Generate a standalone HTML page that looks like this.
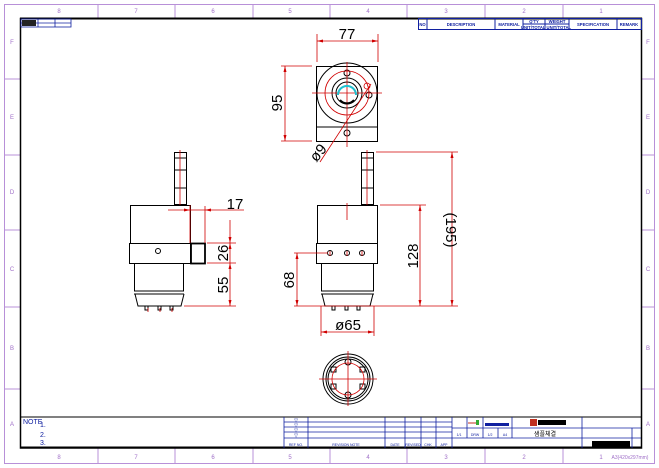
<!DOCTYPE html>
<html><head><meta charset="utf-8"><style>
html,body{margin:0;padding:0;background:#fff}
svg{display:block}
text{font-family:"Liberation Sans",sans-serif}
</style></head><body>
<svg width="659" height="468" viewBox="0 0 659 468" xmlns="http://www.w3.org/2000/svg">
<rect x="0" y="0" width="659" height="468" fill="#fff"/>
<!-- outer lavender border -->
<rect x="4.5" y="4.5" width="650" height="459" fill="none" stroke="#b890d8" stroke-width="1"/>
<g stroke="#b890d8" stroke-width="1">
<line x1="98" y1="5" x2="98" y2="18"/><line x1="175" y1="5" x2="175" y2="18"/><line x1="253" y1="5" x2="253" y2="18"/><line x1="330" y1="5" x2="330" y2="18"/><line x1="407" y1="5" x2="407" y2="18"/><line x1="485" y1="5" x2="485" y2="18"/><line x1="563" y1="5" x2="563" y2="18"/>
<line x1="98" y1="448" x2="98" y2="463"/><line x1="175" y1="448" x2="175" y2="463"/><line x1="253" y1="448" x2="253" y2="463"/><line x1="330" y1="448" x2="330" y2="463"/><line x1="407" y1="448" x2="407" y2="463"/><line x1="485" y1="448" x2="485" y2="463"/><line x1="563" y1="448" x2="563" y2="463"/>
<line x1="5" y1="79" x2="20" y2="79"/><line x1="5" y1="155" x2="20" y2="155"/><line x1="5" y1="230" x2="20" y2="230"/><line x1="5" y1="307" x2="20" y2="307"/><line x1="5" y1="389" x2="20" y2="389"/>
<line x1="641" y1="79" x2="654" y2="79"/><line x1="641" y1="155" x2="654" y2="155"/><line x1="641" y1="230" x2="654" y2="230"/><line x1="641" y1="307" x2="654" y2="307"/><line x1="641" y1="389" x2="654" y2="389"/>
</g>
<g fill="#a070c8" font-size="6" text-anchor="middle">
<text x="59" y="13">8</text><text x="136" y="13">7</text><text x="213" y="13">6</text><text x="290" y="13">5</text><text x="368" y="13">4</text><text x="446" y="13">3</text><text x="524" y="13">2</text><text x="601" y="13">1</text>
<text x="59" y="459">8</text><text x="136" y="459">7</text><text x="213" y="459">6</text><text x="290" y="459">5</text><text x="368" y="459">4</text><text x="446" y="459">3</text><text x="524" y="459">2</text><text x="601" y="459">1</text>
<text x="12" y="44">F</text><text x="12" y="119">E</text><text x="12" y="194">D</text><text x="12" y="271">C</text><text x="12" y="350">B</text><text x="12" y="426">A</text>
<text x="648" y="44">F</text><text x="648" y="119">E</text><text x="648" y="194">D</text><text x="648" y="271">C</text><text x="648" y="350">B</text><text x="648" y="426">A</text>
<text x="630" y="459" font-size="5">A3(420x297mm)</text>
</g>
<!-- inner frame -->
<rect x="20.5" y="18.5" width="621" height="429.5" fill="none" stroke="#000" stroke-width="1.5"/>
<line x1="20" y1="18.5" x2="642" y2="18.5" stroke="#000" stroke-width="2"/>
<line x1="20" y1="447.5" x2="642" y2="447.5" stroke="#000" stroke-width="2"/>
<!-- top-left tiny table -->
<g stroke="#1020a0" stroke-width="0.8" fill="none">
<rect x="21" y="19" width="50" height="8"/><line x1="21" y1="23" x2="71" y2="23"/><line x1="38" y1="19" x2="38" y2="27"/><line x1="55" y1="19" x2="55" y2="27"/>
</g>
<rect x="22" y="20" width="14" height="6" fill="#222"/>
<!-- top-right parts table -->
<g stroke="#1020a0" stroke-width="1" fill="none">
<rect x="418.5" y="18.5" width="223" height="11"/>
<line x1="427" y1="19" x2="427" y2="30"/><line x1="495" y1="19" x2="495" y2="30"/><line x1="523" y1="19" x2="523" y2="30"/><line x1="545" y1="19" x2="545" y2="30"/><line x1="569" y1="19" x2="569" y2="30"/><line x1="617" y1="19" x2="617" y2="30"/><line x1="523" y1="24" x2="569" y2="24"/>
</g>
<g fill="#1020a0" font-size="4.2" font-weight="bold" text-anchor="middle">
<text x="422.5" y="26">NO</text><text x="461" y="26">DESCRIPTION</text><text x="509" y="26">MATERIAL</text><text x="534" y="23">Q'TY</text><text x="557" y="23">WEIGHT</text><text x="546" y="29">UNIT/TOTAL UNIT/TOTAL</text><text x="593" y="26">SPECIFICATION</text><text x="629" y="26">REMARK</text>
</g>
<!-- notes box -->
<line x1="20" y1="417" x2="642" y2="417" stroke="#000" stroke-width="1"/>
<g fill="#1020a0" font-size="7">
<text x="23" y="424">NOTE</text><text x="40" y="427">1.</text><text x="40" y="437">2.</text><text x="40" y="445">3.</text>
</g>
<!-- title block -->
<g stroke="#1020a0" stroke-width="0.8" fill="none">
<line x1="284" y1="417" x2="284" y2="448"/>
<line x1="284" y1="422" x2="452" y2="422"/><line x1="284" y1="427" x2="452" y2="427"/><line x1="284" y1="432" x2="452" y2="432"/><line x1="284" y1="438" x2="452" y2="438"/>
<line x1="308" y1="417" x2="308" y2="448"/><line x1="385" y1="417" x2="385" y2="448"/><line x1="405" y1="417" x2="405" y2="448"/><line x1="421" y1="417" x2="421" y2="448"/><line x1="436" y1="417" x2="436" y2="448"/>
<line x1="452" y1="417" x2="452" y2="448"/>
<line x1="452" y1="428" x2="582" y2="428"/><line x1="452" y1="438" x2="582" y2="438"/>
<line x1="467" y1="417" x2="467" y2="438"/><line x1="483" y1="417" x2="483" y2="438"/><line x1="512" y1="417" x2="512" y2="438"/><line x1="498" y1="428" x2="498" y2="438"/>
<line x1="582" y1="417" x2="582" y2="448"/><line x1="582" y1="428" x2="641" y2="428"/><line x1="582" y1="438" x2="641" y2="438"/><line x1="632" y1="428" x2="632" y2="448"/>
</g>
<g fill="#1020a0" font-size="3.5" text-anchor="middle">
<text x="296" y="446">REF NO.</text><text x="346" y="446">REVISION NOTE</text><text x="395" y="446">DATE</text><text x="413" y="446">REVISED</text><text x="428" y="446">CHK</text><text x="444" y="446">APP</text>
<text x="459" y="436">1/1</text><text x="475" y="436">DRW</text><text x="490" y="436">1/2</text><text x="505" y="436">A4</text>
</g>
<g fill="#1020a0" font-size="5" text-anchor="middle"><text x="296" y="422">▽</text><text x="296" y="427">▽</text><text x="296" y="432">▽</text><text x="296" y="437">▽</text></g>
<rect x="485" y="423" width="24" height="3" fill="#1020a0"/>
<rect x="530" y="419" width="7" height="7" fill="#c03020"/><rect x="538" y="420" width="28" height="5" fill="#000"/>
<text x="545" y="436" font-size="6" font-family="'Liberation Sans','Noto Sans CJK KR',sans-serif" text-anchor="middle" fill="#000">샘플체결</text>
<rect x="592" y="441" width="38" height="6" fill="#000"/>
<line x1="468" y1="423" x2="478" y2="423" stroke="#c03020"/><rect x="476" y="420" width="3" height="5" fill="#3a3"/>
<!-- ===== Top view ===== -->
<g fill="none" stroke="#000" stroke-width="1">
<rect x="316.5" y="66.5" width="61" height="75"/>
<line x1="316" y1="127" x2="378" y2="127"/>
<circle cx="347" cy="93" r="30"/>
<circle cx="347" cy="93" r="15"/><circle cx="347" cy="93" r="11"/>
<circle cx="347" cy="73" r="3"/><circle cx="369" cy="95" r="3"/><circle cx="347" cy="133" r="3"/>
</g>
<g fill="none" stroke="#d00000" stroke-width="0.8">
<circle cx="347" cy="93" r="22"/><circle cx="367" cy="86" r="3"/>
<line x1="347" y1="62" x2="347" y2="147"/><line x1="312" y1="93" x2="382" y2="93"/>
<line x1="317" y1="34" x2="317" y2="62"/><line x1="378" y1="34" x2="378" y2="62"/><line x1="317" y1="41" x2="378" y2="41"/>
<line x1="281" y1="66" x2="312" y2="66"/><line x1="281" y1="141" x2="312" y2="141"/><line x1="285" y1="66" x2="285" y2="141"/>
<line x1="320" y1="162" x2="371" y2="84"/>
</g>
<path d="M338,95 A9,9 0 0 1 356,95" fill="none" stroke="#20c0d0" stroke-width="2"/>
<path d="M340,100 A9,9 0 0 0 354,100" fill="none" stroke="#000" stroke-width="2"/>
<g font-size="15" fill="#000" text-anchor="middle">
<text x="347" y="39">77</text>
<text transform="translate(282,103) rotate(-90)">95</text>
<text transform="translate(322,156) rotate(-50)">ø9</text>
</g>
<!-- ===== Left front view ===== -->
<g fill="none" stroke="#000" stroke-width="1">
<rect x="174.5" y="152.5" width="12" height="52"/><line x1="174" y1="158" x2="187" y2="158"/><line x1="174" y1="170" x2="187" y2="170"/><line x1="174" y1="188" x2="187" y2="188"/>
<rect x="130.5" y="205.5" width="60" height="38"/>
<rect x="129.5" y="243.5" width="61" height="20"/>
<rect x="191" y="243.5" width="14" height="20" stroke-width="1.8"/>
<path d="M134.5,263 V291 H183.5 V263"/><line x1="134" y1="294" x2="184" y2="294"/>
<path d="M135,294 L138,306 H181 L184,294"/>
<path d="M145,306 v4 h3 v-4 M158,306 v4 h3 v-4 M170,306 v4 h3 v-4"/>
<circle cx="158" cy="251" r="2.5"/>
</g>
<g fill="none" stroke="#d00000" stroke-width="0.8">
<line x1="180" y1="150" x2="180" y2="205"/>
<line x1="168" y1="210" x2="244" y2="210"/><line x1="190" y1="205" x2="190" y2="243"/><line x1="205" y1="206" x2="205" y2="243"/>
<line x1="207" y1="243" x2="236" y2="243"/><line x1="207" y1="263" x2="236" y2="263"/><line x1="184" y1="306" x2="236" y2="306"/>
<line x1="230" y1="220" x2="230" y2="306"/>
<line x1="148" y1="308" x2="148" y2="312"/><line x1="160" y1="308" x2="160" y2="312"/><line x1="172" y1="308" x2="172" y2="312"/>
</g>
<g font-size="15" fill="#000" text-anchor="middle">
<text x="235" y="209">17</text>
<text transform="translate(228,253) rotate(-90)">26</text>
<text transform="translate(228,285) rotate(-90)">55</text>
</g>
<!-- ===== Right front view ===== -->
<g fill="none" stroke="#000" stroke-width="1">
<rect x="361.5" y="152.5" width="12" height="52"/><line x1="361" y1="158" x2="374" y2="158"/><line x1="361" y1="170" x2="374" y2="170"/><line x1="361" y1="188" x2="374" y2="188"/>
<rect x="317.5" y="205.5" width="60" height="38"/>
<rect x="316.5" y="243.5" width="61" height="20"/>
<path d="M321.5,263 V291 H373.5 V263"/><line x1="321" y1="294" x2="374" y2="294"/>
<path d="M322,294 L325,306 H370 L373,294"/>
<path d="M332,306 v4 h3 v-4 M345,306 v4 h3 v-4 M357,306 v4 h3 v-4"/>
<circle cx="330" cy="253" r="2.5"/><circle cx="347" cy="253" r="2.5"/><circle cx="362" cy="253" r="2.5"/>
</g>
<g fill="none" stroke="#d00000" stroke-width="0.8">
<line x1="367" y1="150" x2="367" y2="205"/><line x1="347" y1="203" x2="347" y2="220"/>
<line x1="376" y1="152" x2="458" y2="152"/><line x1="380" y1="205" x2="426" y2="205"/><line x1="294" y1="306" x2="458" y2="306"/>
<line x1="420" y1="205" x2="420" y2="306"/><line x1="452" y1="152" x2="452" y2="306"/>
<line x1="294" y1="253" x2="328" y2="253"/><line x1="297" y1="253" x2="297" y2="306"/>
<line x1="321" y1="306" x2="321" y2="336"/><line x1="374" y1="306" x2="374" y2="336"/><line x1="321" y1="332" x2="374" y2="332"/>
<line x1="330" y1="251" x2="330" y2="256"/><line x1="347" y1="251" x2="347" y2="256"/><line x1="362" y1="251" x2="362" y2="256"/>
</g>
<g font-size="15" fill="#000" text-anchor="middle">
<text transform="translate(418,256) rotate(-90)">128</text>
<text transform="translate(446,230) rotate(90)">(195)</text>
<text transform="translate(294,280) rotate(-90)">68</text>
<text x="348" y="330">ø65</text>
</g>
<!-- ===== Bottom view ===== -->
<g fill="none" stroke="#000" stroke-width="1">
<circle cx="348" cy="379" r="25"/><circle cx="348" cy="379" r="22"/><circle cx="348" cy="379" r="20"/>
<circle cx="348" cy="362" r="3"/><circle cx="348" cy="395" r="3"/>
<rect x="331" y="367" width="5" height="5"/><rect x="360" y="367" width="5" height="5"/><rect x="331" y="384" width="5" height="5"/><rect x="360" y="384" width="5" height="5"/>
</g>
<g fill="none" stroke="#d00000" stroke-width="0.8">
<circle cx="348" cy="379" r="16"/>
<line x1="348" y1="351" x2="348" y2="406"/><line x1="319" y1="379" x2="377" y2="379"/>
</g>
<!-- arrows -->
<g fill="#d00000">
<path d="M317,41 l6,-1.5 v3z"/><path d="M378,41 l-6,-1.5 v3z"/>
<path d="M285,66 l-1.5,6 h3z"/><path d="M285,141 l-1.5,-6 h3z"/>
<path d="M420,205 l-1.5,6 h3z"/><path d="M420,306 l-1.5,-6 h3z"/>
<path d="M452,152 l-1.5,6 h3z"/><path d="M452,306 l-1.5,-6 h3z"/>
<path d="M297,253 l-1.5,6 h3z"/><path d="M297,306 l-1.5,-6 h3z"/>
<path d="M321,332 l6,-1.5 v3z"/><path d="M374,332 l-6,-1.5 v3z"/>
<path d="M230,243 l-1.5,-6 h3z"/><path d="M230,263 l-1.5,6 h3z"/><path d="M230,306 l-1.5,-6 h3z"/><path d="M230,243 l-1.5,6 h3z"/>
<path d="M190,210 l-6,-1.5 v3z"/><path d="M205,210 l6,-1.5 v3z"/>
</g>
</svg>
</body></html>
